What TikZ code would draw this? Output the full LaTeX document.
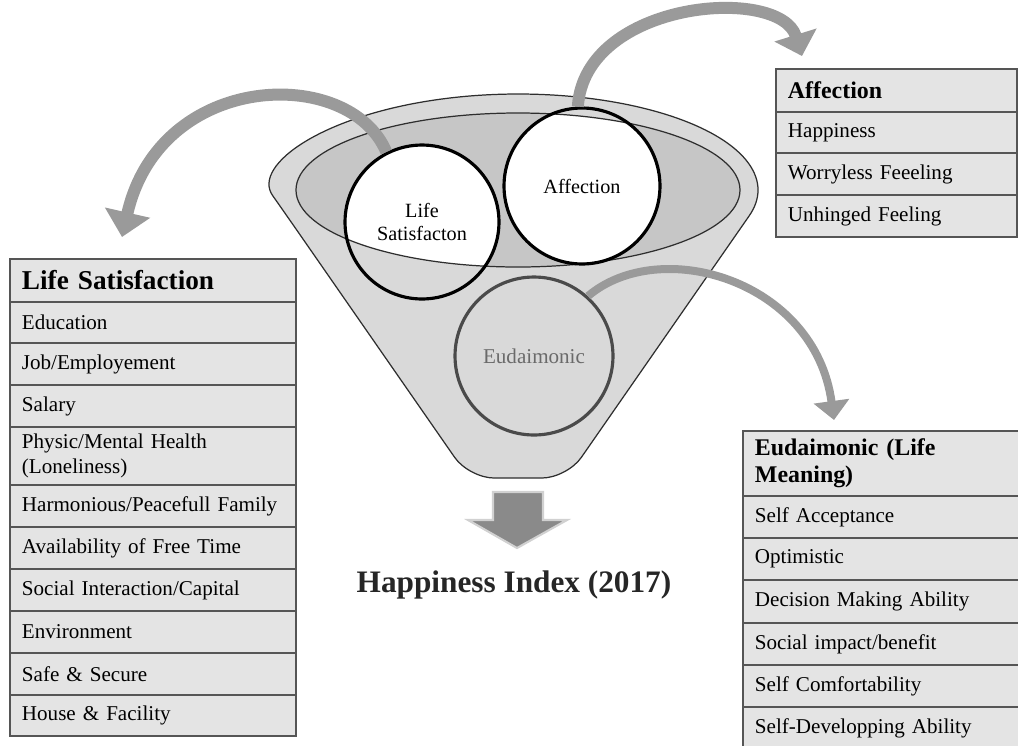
\documentclass[tikz,border=0pt]{standalone}
\usepackage{fontspec}
\setmainfont{Liberation Serif}
\usetikzlibrary{arrows.meta}
\definecolor{funnelfill}{HTML}{D9D9D9}
\definecolor{innerfill}{HTML}{C6C6C6}
\definecolor{funnelline}{HTML}{2E2E2E}
\definecolor{arrowgray}{HTML}{9A9A9A}
\definecolor{tabfill}{HTML}{E4E4E4}
\definecolor{tabline}{HTML}{555555}
\definecolor{eudline}{HTML}{4A4A4A}
\definecolor{eudtext}{HTML}{6A6A6A}
\definecolor{downfill}{HTML}{8A8A8A}
\tikzset{
  cell/.style={draw=tabline, fill=tabfill, line width=1.1pt, anchor=north west,
    inner xsep=0.24cm, inner ysep=1pt, align=left,
    font=\fontsize{12}{14.5}\selectfont},
  lscell/.style={cell, text width=5.24cm},
  afcell/.style={cell, text width=4.34cm},
  eucell/.style={cell, text width=5.06cm},
  bighead/.style={font=\fontsize{15.5}{17}\selectfont\bfseries},
  smallhead/.style={font=\fontsize{13.6}{15.5}\selectfont\bfseries},
  topcircle/.style={circle, draw=black, line width=1.8pt, align=center,
    font=\fontsize{11.5}{13}\selectfont, inner sep=0pt},
  curvearrow/.style={draw=arrowgray, line width=0.24cm},
}
\begin{document}
\begin{tikzpicture}[x=0.02cm, y=0.02cm]
\useasboundingbox (0,0) rectangle (1018,-745);
% funnel body
\path[fill=funnelfill, draw=funnelline, line width=0.7pt]
  (287,-216) arc[start angle=195.7, end angle=-15.7, x radius=240, y radius=96]
  [rounded corners=0.5cm] -- (567,-478) -- (469,-478) -- cycle;
% inner ellipse fill
\fill[innerfill] (518,-190) ellipse[x radius=222, y radius=77];
% white parts of the top circles
\begin{scope}
  \clip (518,-190) ellipse[x radius=222, y radius=77];
  \fill[white] (422,-222) circle[radius=77];
  \fill[white] (582,-186) circle[radius=78];
\end{scope}
% Eudaimonic circle
\node[circle, draw=eudline, line width=1.8pt, fill=funnelfill, minimum size=3.16cm,
  font=\fontsize{12}{14}\selectfont, text=eudtext] (euc) at (534,-356) {Eudaimonic};
% inner ellipse outline
\draw[funnelline, line width=0.7pt] (518,-190) ellipse[x radius=222, y radius=77];
% top circles
\node[topcircle, minimum size=3.08cm] (lsc) at (422,-222) {Life\\Satisfacton};
\node[topcircle, minimum size=3.12cm] (afc) at (582,-186) {Affection};

% arrow tips
\coordinate (lsTip) at (122,-237);
\coordinate (afTip) at (802,-56);
\coordinate (euTip) at (834,-420);
\draw[curvearrow, -{Triangle[length=0.5cm, width=0.9cm]}]
  (lsc.117) .. controls (350,-65) and (160,-70) .. (lsTip);
\draw[curvearrow, -{Triangle[length=0.44cm, width=0.86cm]}]
  (afc.93) .. controls (585,0) and (780,15) .. (afTip);
\draw[curvearrow, line width=0.16cm, -{Triangle[length=0.38cm, width=0.7cm]}]
  (euc.48) .. controls (660,-235) and (815,-280) .. (euTip);

% down arrow
\path[fill=downfill, draw=black!18, line width=1.2pt]
  (493,-492) -- (543,-492) -- (543,-520) -- (567,-520) -- (517,-548)
  -- (468,-520) -- (493,-520) -- cycle;
\node[font=\fontsize{17.8}{20}\selectfont\bfseries, text=black!85] (title) at (514,-585) {Happiness Index (2017)};

% Life Satisfaction table
\node[lscell, bighead, minimum height=0.86cm] (ls0) at (9,-258) {Life Satisfaction};
\node[lscell, minimum height=0.82cm] (ls1) at (9,-301) {Education};
\node[lscell, minimum height=0.84cm] (ls2) at (9,-342) {Job/Employement};
\node[lscell, minimum height=0.84cm] (ls3) at (9,-384) {Salary};
\node[lscell, minimum height=1.16cm] (ls4) at (9,-426) {Physic/Mental Health\\(Loneliness)};
\node[lscell, minimum height=0.84cm] (ls5) at (9,-484) {Harmonious/Peacefull Family};
\node[lscell, minimum height=0.84cm] (ls6) at (9,-526) {Availability of Free Time};
\node[lscell, minimum height=0.84cm] (ls7) at (9,-568) {Social Interaction/Capital};
\node[lscell, minimum height=0.84cm] (ls8) at (9,-610) {Environment};
\node[lscell, minimum height=0.84cm] (ls9) at (9,-652) {Safe \& Secure};
\node[lscell, minimum height=0.82cm] (ls10) at (9,-694) {House \& Facility};

% Affection table
\node[afcell, smallhead, minimum height=0.86cm] (af0) at (775,-68) {Affection};
\node[afcell, minimum height=0.82cm] (af1) at (775,-111) {Happiness};
\node[afcell, minimum height=0.84cm] (af2) at (775,-152) {Worryless Feeeling};
\node[afcell, minimum height=0.84cm] (af3) at (775,-194) {Unhinged Feeling};

% Eudaimonic table
\node[eucell, smallhead, minimum height=1.3cm] (eu0) at (742,-430) {Eudaimonic (Life\\Meaning)};
\node[eucell, minimum height=0.84cm] (eu1) at (742,-495) {Self Acceptance};
\node[eucell, minimum height=0.84cm] (eu2) at (742,-537) {Optimistic};
\node[eucell, minimum height=0.86cm] (eu3) at (742,-579) {Decision Making Ability};
\node[eucell, minimum height=0.84cm] (eu4) at (742,-622) {Social impact/benefit};
\node[eucell, minimum height=0.84cm] (eu5) at (742,-664) {Self Comfortability};
\node[eucell, minimum height=0.84cm] (eu6) at (742,-706) {Self-Developping Ability};
\end{tikzpicture}
\end{document}
